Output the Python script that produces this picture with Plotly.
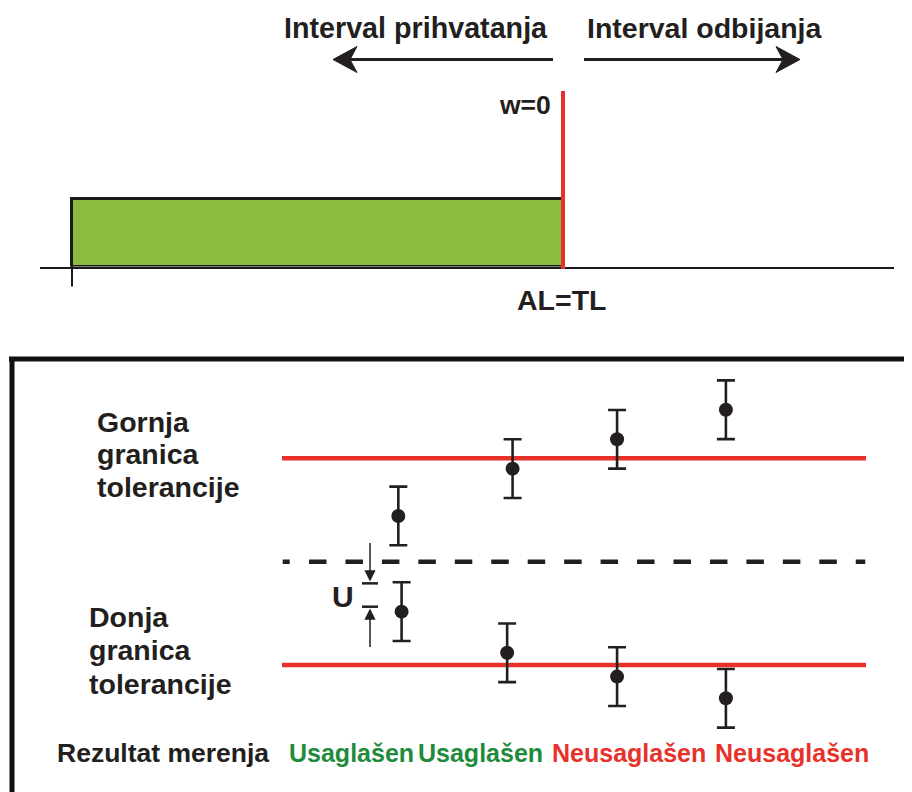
import plotly.graph_objects as go

# page has an 8px body margin: the figure is drawn from (8, 8) in the window
OFF = 8
W_WIN, H_WIN = 912, 792
W, H = W_WIN - OFF, H_WIN - OFF

# ---------------- data ----------------
# top panel: acceptance interval, AL = TL, guard band w = 0
accept_start = 0.0
acceptance_limit = 10.0          # AL = TL
bar_height = 1.0
top_texts = ["Interval prihvatanja", "Interval odbijanja", "w=0", "AL=TL"]

# bottom panel: tolerance limits and measurement results with uncertainty U
lower_tol = 0.0
upper_tol = 10.0
mid_level = 5.0
U = 1.42
upper_x = [0.98, 2.03, 2.99, 3.99]
upper_vals = [7.21, 9.50, 10.92, 12.35]
lower_x = [1.01, 1.98, 2.99, 3.99]
lower_vals = [2.58, 0.59, -0.56, -1.61]
u_mark = [3.95, 2.82]            # bracket showing U
upper_label = ["Gornja", "granica", "tolerancije"]
lower_label = ["Donja", "granica", "tolerancije"]
row_title = "Rezultat merenja"
result_labels = ["Usaglašen", "Usaglašen", "Neusaglašen", "Neusaglašen"]
result_ok = [True, True, False, False]

# ---------------- style ----------------
FONT = "Liberation Sans, Arial, sans-serif"
BLACK = "#231f20"
RED = "#e8312a"
GREEN_FILL = "#8bbb3f"
GREEN_TXT = "#1f8b3b"


def px(x):
    return (x - OFF) / W


def py(y):
    return 1 - (y - OFF) / H


def path(points):
    return "M " + " L ".join(f"{px(a):.5f},{py(b):.5f}" for a, b in points) + " Z"


def txt(s, x, y, size, color=BLACK, xanchor="left"):
    return dict(text=s, x=px(x), y=py(y), xref="paper", yref="paper",
                showarrow=False, xanchor=xanchor, yanchor="middle",
                font=dict(family=FONT, size=size, color=color, weight="bold"))


fig = go.Figure()

# ---- top panel bar (x2/y2) ----
TOP_X0, TOP_S = 72.0, 49.1
fig.add_trace(go.Bar(
    x=[(accept_start + acceptance_limit) / 2], y=[bar_height],
    width=[acceptance_limit - accept_start], base=0,
    marker=dict(color=GREEN_FILL, line=dict(color="#1a1a1a", width=3)),
    xaxis="x2", yaxis="y2", showlegend=False, hoverinfo="skip"))

# ---- bottom panel error bars (x/y) ----
for xs, vs in [(upper_x, upper_vals), (lower_x, lower_vals)]:
    fig.add_trace(go.Scatter(
        x=xs, y=vs, mode="markers",
        marker=dict(size=14, color=BLACK),
        error_y=dict(type="constant", value=U, thickness=2.6, width=9, color=BLACK),
        showlegend=False, hoverinfo="skip"))

shapes = []
# tolerance limits
for v in [upper_tol, lower_tol]:
    shapes.append(dict(type="line", xref="paper", yref="y", x0=px(282), x1=px(866),
                       y0=v, y1=v, layer="below", line=dict(color=RED, width=4.5)))
dash = "7px,19.3px," + ",".join(["17.5px,18.95px"] * 15) + ",9.5px,60px"
shapes.append(dict(type="line", xref="paper", yref="y", x0=px(282.7), x1=px(866),
                   y0=mid_level, y1=mid_level, layer="below",
                   line=dict(color=BLACK, width=4.5, dash=dash)))
# U bracket
for v in u_mark:
    shapes.append(dict(type="line", xref="paper", yref="y", x0=px(362), x1=px(378),
                       y0=v, y1=v, line=dict(color=BLACK, width=2.5)))

# top panel decorations
shapes.append(dict(type="line", xref="x2", yref="paper", x0=acceptance_limit, x1=acceptance_limit,
                   y0=py(269), y1=py(91), line=dict(color=RED, width=4)))
shapes.append(dict(type="line", xref="x2", yref="paper", x0=accept_start, x1=accept_start,
                   y0=py(246.5), y1=py(286.5), line=dict(color="#1a1a1a", width=2)))
# arrows
shapes.append(dict(type="line", xref="paper", yref="paper", x0=px(553), x1=px(348),
                   y0=py(59.5), y1=py(59.5), line=dict(color=BLACK, width=3)))
shapes.append(dict(type="path", xref="paper", yref="paper",
                   path=path([(333, 59.5), (357, 46.5), (350, 59.5), (357, 72.5)]),
                   fillcolor=BLACK, line=dict(color=BLACK, width=1)))
shapes.append(dict(type="line", xref="paper", yref="paper", x0=px(584), x1=px(785),
                   y0=py(59.5), y1=py(59.5), line=dict(color=BLACK, width=3)))
shapes.append(dict(type="path", xref="paper", yref="paper",
                   path=path([(800, 59.5), (776, 46.5), (783, 59.5), (776, 72.5)]),
                   fillcolor=BLACK, line=dict(color=BLACK, width=1)))
# bottom frame
shapes.append(dict(type="line", xref="paper", yref="paper", x0=px(9), x1=px(915),
                   y0=py(359), y1=py(359), line=dict(color="#111", width=5)))
shapes.append(dict(type="line", xref="paper", yref="paper", x0=px(12), x1=px(12),
                   y0=py(357), y1=py(795), line=dict(color="#111", width=5)))

ann = []
ann.append(txt(top_texts[0], 550, 27.5, 28.7, xanchor="right"))
ann.append(txt(top_texts[1], 585, 27.5, 28.5))
ann.append(txt(top_texts[2], 553, 105, 26.5, xanchor="right"))
ann.append(txt(top_texts[3], 561, 299.5, 28.5, xanchor="center"))
for s, yy in zip(upper_label, [421.5, 454, 486.5]):
    ann.append(txt(s, 95, yy, 28.5))
for s, yy in zip(lower_label, [616.5, 650, 683.5]):
    ann.append(txt(s, 87, yy, 28.5))
ann.append(txt("U", 343, 596, 30, xanchor="center"))
ann.append(txt(row_title, 55, 753, 26.5))
for s, ok, xx in zip(result_labels, result_ok, [287, 416, 550, 713]):
    ann.append(txt(s, xx, 753, 25, GREEN_TXT if ok else RED))
# U arrows
ann.append(dict(x=px(370), y=py(581.5), xref="paper", yref="paper", text="", showarrow=True,
                ax=0, ay=-40, arrowhead=2, arrowsize=1.5, arrowwidth=1.5, arrowcolor=BLACK))
ann.append(dict(x=px(370), y=py(608.5), xref="paper", yref="paper", text="", showarrow=True,
                ax=0, ay=40, arrowhead=2, arrowsize=1.5, arrowwidth=1.5, arrowcolor=BLACK))

# axis ranges (bottom: x index units, y in value units), window pixels -> data
BX1, BSX = 400.5, 108.83
BY0, BSY = 665.0, 20.67
y_dom_top = 360.0
xr = [1 + (OFF - BX1) / BSX, 1 + (W_WIN - BX1) / BSX]
yr = [(BY0 - H_WIN) / BSY, (BY0 - y_dom_top) / BSY]

top_bottom_px, top_top_px = 266.5, 90.0
x2r = [(40 - TOP_X0) / TOP_S, (894 - TOP_X0) / TOP_S]
y2r = [0, (top_bottom_px - top_top_px) / 67.5]

hidden = dict(visible=False, showgrid=False, zeroline=False, fixedrange=True)
fig.update_layout(
    width=W, height=H, margin=dict(l=0, r=0, t=0, b=0),
    paper_bgcolor="white", plot_bgcolor="rgba(0,0,0,0)",
    xaxis=dict(domain=[0, 1], range=xr, anchor="y", **hidden),
    yaxis=dict(domain=[0, py(y_dom_top)], range=yr, anchor="x", **hidden),
    xaxis2=dict(domain=[px(40), px(894)], range=x2r, anchor="y2", visible=True,
                showline=True, linecolor="#1a1a1a", linewidth=2, showgrid=False,
                zeroline=False, showticklabels=False, ticks=""),
    yaxis2=dict(domain=[py(top_bottom_px), py(top_top_px)], range=y2r, anchor="x2", **hidden),
    shapes=shapes, annotations=ann, showlegend=False, bargap=0,
)

fig.write_html("out.html")
